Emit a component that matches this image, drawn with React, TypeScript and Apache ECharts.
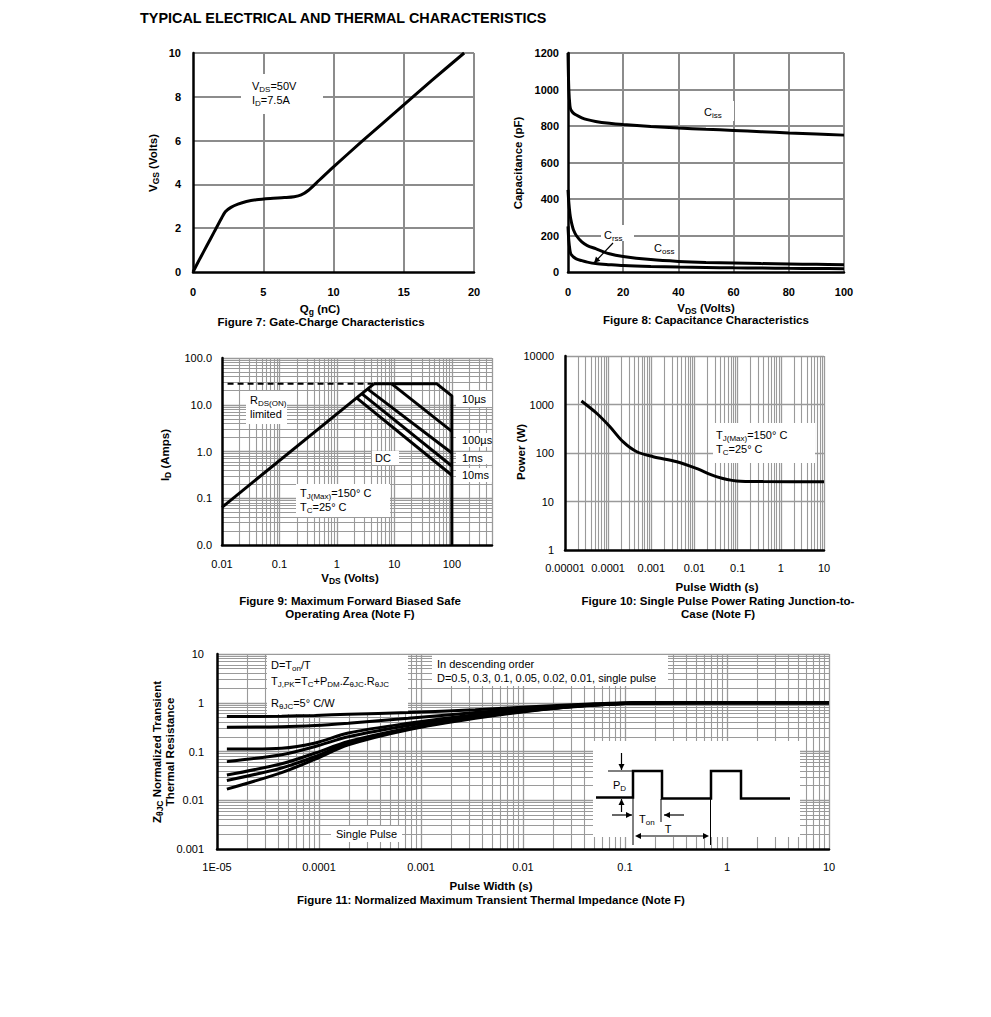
import { useEffect, useRef } from 'react';
import * as echarts from 'echarts';

const FONT = '"Liberation Sans", Arial, Helvetica, sans-serif';

// ---------- Figure 7: Gate-Charge ----------
const fig7Qg = [0, 0.5, 1, 1.5, 2, 2.3, 2.7, 3.2, 3.8, 4.5, 5.5, 6.5, 7.2, 7.7, 8.2, 9, 10, 12, 15, 17, 19.3];
const fig7Vgs = [0, 0.62, 1.22, 1.82, 2.42, 2.75, 2.95, 3.1, 3.22, 3.3, 3.36, 3.4, 3.44, 3.52, 3.72, 4.2, 4.8, 5.95, 7.63, 8.75, 10];

// ---------- Figure 8: Capacitance ----------
const fig8Vds = [0, 0.3, 0.7, 1, 1.5, 2, 3, 5, 7, 10, 15, 20, 30, 40, 50, 60, 70, 80, 90, 100];
const fig8Ciss = [1200, 1000, 910, 890, 878, 870, 860, 845, 835, 825, 815, 808, 797, 789, 782, 776, 769, 762, 756, 750];
const fig8Coss = [450, 380, 320, 290, 255, 230, 200, 165, 145, 128, 100, 85, 68, 58, 52, 49, 46, 44, 42, 40];
const fig8Crss = [250, 170, 120, 100, 90, 82, 72, 62, 54, 46, 40, 35, 30, 27, 25, 23, 22, 20, 19, 18];

// ---------- Figure 9: Safe Operating Area ----------
const fig9XTickLabels = ['0.01', '0.1', '1', '10', '100'];
const fig9YTickLabels = ['0.0', '0.1', '1.0', '10.0', '100.0'];
const fig9RdsDashV = [0.0125, 4.4];
const fig9RdsDashI = [28, 28];
const fig9RdsV = [0.01, 4.4];
const fig9RdsI = [0.064, 28];
const fig9Us10V = [4.4, 55, 100, 100];
const fig9Us10I = [28, 28, 15.5, 0.01];
const fig9Us100V = [9, 100];
const fig9Us100I = [28, 2.7];
const fig9Ms1V = [3.4, 100];
const fig9Ms1I = [21.8, 0.93];
const fig9Ms10V = [2.7, 100];
const fig9Ms10I = [17.3, 0.49];
const fig9DcV = [2.2, 100];
const fig9DcI = [14, 0.31];

// ---------- Figure 10: Single Pulse Power ----------
const fig10XTickLabels = ['0.00001', '0.0001', '0.001', '0.01', '0.1', '1', '10'];
const fig10YTickLabels = ['1', '10', '100', '1000', '10000'];
const fig10T = [2.4e-5, 5.4e-5, 1.1e-4, 2.2e-4, 4.6e-4, 1.1e-3, 3.9e-3, 1.1e-2, 3.2e-2, 9.4e-2, 0.39, 10];
const fig10P = [1180, 660, 348, 171, 106, 84, 66, 48, 32.5, 26.5, 25.7, 25.5];

// ---------- Figure 11: Transient Thermal Impedance ----------
const fig11XTickLabels = ['1E-05', '0.0001', '0.001', '0.01', '0.1', '1', '10'];
const fig11YTickLabels = ['0.001', '0.01', '0.1', '1', '10'];
const fig11T = [1.25e-5, 4.3e-5, 9.2e-5, 1.94e-4, 7.5e-4, 3.4e-3, 0.015, 0.05, 0.12, 0.5, 10];
const fig11D05 = [0.52, 0.53, 0.55, 0.58, 0.63, 0.72, 0.85, 0.95, 1.0, 1.0, 1.0];
const fig11D03 = [0.316, 0.32, 0.34, 0.38, 0.48, 0.63, 0.8, 0.93, 0.99, 1.0, 1.0];
const fig11D01 = [0.112, 0.117, 0.15, 0.24, 0.38, 0.57, 0.77, 0.92, 0.99, 1.0, 1.0];
const fig11D005 = [0.062, 0.086, 0.127, 0.2, 0.34, 0.54, 0.76, 0.91, 0.99, 1.0, 1.0];
const fig11D002 = [0.033, 0.056, 0.093, 0.16, 0.3, 0.51, 0.74, 0.9, 0.98, 1.0, 1.0];
const fig11D001 = [0.0254, 0.046, 0.079, 0.15, 0.29, 0.5, 0.73, 0.9, 0.98, 1.0, 1.0];
const fig11Single = [0.0169, 0.037, 0.07, 0.137, 0.28, 0.48, 0.72, 0.89, 0.98, 1.0, 1.0];

const zip = (xs: number[], ys: number[]) => xs.map((x, i) => [x, ys[i]]);

const GRID_COLOR = '#9a9a9a';
const AXIS_LINE = { show: true, onZero: false, lineStyle: { color: '#000', width: 2.5 } };

const decadeFormatter = (labels: string[], minExp: number) => (v: number) => {
  const l = Math.log10(v);
  const r = Math.round(l);
  if (Math.abs(l - r) > 1e-6) return '';
  return labels[r - minExp] ?? '';
};

const labelStyle = (bold: boolean, margin: number) => ({
  margin,
  fontFamily: FONT,
  fontSize: 11,
  fontWeight: bold ? 'bold' : 'normal',
  color: '#000',
});

function valueAxis(gridIndex: number, min: number, max: number, interval: number, margin: number) {
  return {
    gridIndex,
    type: 'value',
    min,
    max,
    interval,
    axisLine: AXIS_LINE,
    axisTick: { show: false },
    axisLabel: { ...labelStyle(true, margin), formatter: (v: number) => String(v) },
    splitLine: { show: true, showMinLine: false, lineStyle: { color: '#8c8c8c', width: 2 } },
  };
}

function logAxis(gridIndex: number, min: number, max: number, labels: string[], minExp: number, margin: number, minor: boolean) {
  return {
    gridIndex,
    type: 'log',
    logBase: 10,
    min,
    max,
    axisLine: AXIS_LINE,
    axisTick: { show: false },
    minorTick: { show: false, splitNumber: 9 },
    axisLabel: { ...labelStyle(false, margin), formatter: decadeFormatter(labels, minExp) },
    splitLine: { show: true, showMinLine: false, lineStyle: { color: GRID_COLOR, width: 1.3 } },
    minorSplitLine: { show: minor, lineStyle: { color: GRID_COLOR, width: 1.1 } },
  };
}

function line(idx: number, xs: number[], ys: number[], extra: any = {}) {
  return {
    type: 'line',
    xAxisIndex: idx,
    yAxisIndex: idx,
    data: zip(xs, ys),
    symbol: 'none',
    silent: true,
    lineStyle: { color: '#000', width: 3 },
    z: 3,
    ...extra,
  };
}

const RICH = {
  n: { fontFamily: FONT, fontSize: 11, lineHeight: 14, fill: '#000' },
  s: { fontFamily: FONT, fontSize: 8, lineHeight: 7, verticalAlign: 'bottom', fill: '#000' },
  b: { fontFamily: FONT, fontSize: 11.5, fontWeight: 'bold', lineHeight: 14, fill: '#000' },
  bs: { fontFamily: FONT, fontSize: 8.5, fontWeight: 'bold', lineHeight: 7, verticalAlign: 'bottom', fill: '#000' },
  t: { fontFamily: FONT, fontSize: 14.4, fontWeight: 'bold', lineHeight: 16, fill: '#000' },
};

function txt(x: number, y: number, text: string, align = 'left', extra: any = {}) {
  return {
    type: 'text',
    x,
    y,
    z: 10,
    silent: true,
    style: { text, rich: RICH, fill: '#000', fontFamily: FONT, fontSize: 11, align, verticalAlign: 'middle' },
    ...extra,
  };
}
const vtxt = (x: number, y: number, text: string) => txt(x, y, text, 'center', { rotation: Math.PI / 2 });

function box(x1: number, y1: number, x2: number, y2: number) {
  return { type: 'rect', z: 1, silent: true, shape: { x: x1, y: y1, width: x2 - x1, height: y2 - y1 }, style: { fill: '#fff' } };
}
function seg(x1: number, y1: number, x2: number, y2: number, w = 1) {
  return { type: 'line', z: 10, silent: true, shape: { x1, y1, x2, y2 }, style: { stroke: '#000', lineWidth: w } };
}
function head(tipX: number, tipY: number, fromX: number, fromY: number, len = 6, half = 3) {
  const dx = tipX - fromX;
  const dy = tipY - fromY;
  const d = Math.hypot(dx, dy);
  const ux = dx / d;
  const uy = dy / d;
  const bx = tipX - ux * len;
  const by = tipY - uy * len;
  return {
    type: 'polygon',
    z: 10,
    silent: true,
    shape: { points: [[tipX, tipY], [bx - uy * half, by + ux * half], [bx + uy * half, by - ux * half]] },
    style: { fill: '#000' },
  };
}
const arrow = (x1: number, y1: number, x2: number, y2: number) => [seg(x1, y1, x2, y2, 1.2), head(x2, y2, x1, y1)];

function buildOption() {
  const graphic: any[] = [
    // page title
    txt(140, 18, '{t|TYPICAL ELECTRICAL AND THERMAL CHARACTERISTICS}'),

    // Figure 7
    box(241, 74, 323, 114),
    txt(252, 93, '{n|V}{s|DS}{n|=50V}\n{n|I}{s|D}{n|=7.5A}'),
    vtxt(153, 163, '{b|V}{bs|GS}{b| (Volts)}'),
    txt(320, 309, '{b|Q}{bs|g}{b| (nC)}', 'center'),
    txt(321, 322, '{b|Figure 7: Gate-Charge Characteristics}', 'center'),

    // Figure 8
    box(701, 101, 734, 121),
    txt(704, 112, '{n|C}{s|iss}'),
    box(601, 225, 634, 241),
    txt(604, 235, '{n|C}{s|rss}'),
    txt(654, 248, '{n|C}{s|oss}'),
    ...arrow(613, 243, 594, 263),
    vtxt(518, 163, '{b|Capacitance (pF)}'),
    txt(706, 308, '{b|V}{bs|DS}{b| (Volts)}', 'center'),
    txt(706, 320, '{b|Figure 8: Capacitance Characteristics}', 'center'),

    // Figure 9
    box(246, 391, 287, 424),
    txt(250, 407, '{n|R}{s|DS(ON)}\n{n|limited}'),
    box(456, 391, 492, 407),
    txt(462, 399, '{n|10µs}'),
    box(456, 433, 492, 447),
    txt(462, 440, '{n|100µs}'),
    box(456, 452, 492, 464),
    txt(462, 458, '{n|1ms}'),
    box(456, 468, 492, 482),
    txt(462, 475, '{n|10ms}'),
    box(372, 451, 399, 465),
    txt(375, 458, '{n|DC}'),
    box(296, 484, 390, 517),
    txt(300, 500, '{n|T}{s|J(Max)}{n|=150° C}\n{n|T}{s|C}{n|=25° C}'),
    vtxt(165, 455, '{b|I}{bs|D}{b| (Amps)}'),
    txt(350, 578, '{b|V}{bs|DS}{b| (Volts)}', 'center'),
    txt(350, 601, '{b|Figure 9: Maximum Forward Biased Safe}', 'center'),
    txt(350, 614, '{b|Operating Area (Note F)}', 'center'),

    // Figure 10
    box(713, 423, 815, 463),
    txt(716, 442, '{n|T}{s|J(Max)}{n|=150° C}\n{n|T}{s|C}{n|=25° C}'),
    vtxt(521, 452, '{b|Power (W)}'),
    txt(717, 587, '{b|Pulse Width (s)}', 'center'),
    txt(718, 601, '{b|Figure 10: Single Pulse Power Rating Junction-to-}', 'center'),
    txt(718, 614, '{b|Case (Note F)}', 'center'),

    // Figure 11
    box(267, 655, 408, 714),
    txt(271, 665, '{n|D=T}{s|on}{n|/T}'),
    txt(271, 681, '{n|T}{s|J,PK}{n|=T}{s|C}{n|+P}{s|DM}{n|.Z}{s|θJC}{n|.R}{s|θJC}'),
    txt(271, 703, '{n|R}{s|θJC}{n|=5° C/W}'),
    box(432, 655, 668, 686),
    txt(437, 664, '{n|In descending order}'),
    txt(437, 678, '{n|D=0.5, 0.3, 0.1, 0.05, 0.02, 0.01, single pulse}'),
    box(331, 826, 402, 842),
    txt(336, 834, '{n|Single Pulse}'),
    vtxt(157, 752, '{b|Z}{bs|θJC}{b| Normalized Transient}'),
    vtxt(170, 752, '{b|Thermal Resistance}'),
    txt(491, 886, '{b|Pulse Width (s)}', 'center'),
    txt(491, 900, '{b|Figure 11: Normalized Maximum Transient Thermal Impedance (Note F)}', 'center'),

    // Figure 11 inset: pulse train schematic
    box(593, 741, 800, 837),
    {
      type: 'polyline',
      z: 10,
      silent: true,
      shape: {
        points: [[596, 797.5], [633, 797.5], [633, 771], [662, 771], [662, 798.5], [711, 798.5], [711, 771], [741, 771], [741, 798.5], [790, 798.5]],
      },
      style: { stroke: '#000', lineWidth: 2.5, fill: null },
    },
    seg(608, 771, 633, 771, 1),
    ...arrow(621.5, 753, 621.5, 770),
    ...arrow(621.5, 812, 621.5, 799),
    txt(613, 785, '{n|P}{s|D}'),
    ...arrow(612, 815, 632, 815),
    txt(639, 819, '{n|T}{s|on}'),
    ...arrow(684, 815, 664, 815),
    seg(633, 771, 633, 845, 1),
    seg(661, 799, 661, 822, 1),
    seg(710.5, 771, 710.5, 845, 1),
    seg(640, 836, 704, 836, 1.2),
    head(635, 836, 645, 836),
    head(709, 836, 699, 836),
    txt(668, 829, '{n|T}', 'center'),
  ];

  return {
    animation: false,
    backgroundColor: '#fff',
    grid: [
      { left: 193, top: 53, width: 281, height: 219, outerBoundsMode: 'none' },
      { left: 568, top: 53, width: 276, height: 219, outerBoundsMode: 'none' },
      { left: 222, top: 358, width: 270, height: 187, outerBoundsMode: 'none' },
      { left: 565, top: 356, width: 259, height: 194, outerBoundsMode: 'none' },
      { left: 217, top: 654, width: 612, height: 195, outerBoundsMode: 'none' },
    ],
    xAxis: [
      valueAxis(0, 0, 20, 5, 14),
      valueAxis(1, 0, 100, 20, 14),
      logAxis(2, 0.01, 500, fig9XTickLabels, -2, 13, true),
      logAxis(3, 1e-5, 10, fig10XTickLabels, -5, 12, true),
      logAxis(4, 1e-5, 10, fig11XTickLabels, -5, 12, true),
    ],
    yAxis: [
      valueAxis(0, 0, 10, 2, 12),
      valueAxis(1, 0, 1200, 200, 9),
      logAxis(2, 0.01, 100, fig9YTickLabels, -2, 10, true),
      logAxis(3, 1, 10000, fig10YTickLabels, 0, 11, false),
      logAxis(4, 0.001, 10, fig11YTickLabels, -3, 13, true),
    ],
    series: [
      line(0, fig7Qg, fig7Vgs, { smooth: 0.3 }),
      line(1, fig8Vds, fig8Ciss, { smooth: 0.3 }),
      line(1, fig8Vds, fig8Coss, { smooth: 0.3 }),
      line(1, fig8Vds, fig8Crss, { smooth: 0.3 }),
      line(2, fig9RdsDashV, fig9RdsDashI, { lineStyle: { color: '#000', width: 2, type: [6, 4] } }),
      line(2, fig9RdsV, fig9RdsI),
      line(2, fig9Us10V, fig9Us10I),
      line(2, fig9Us100V, fig9Us100I),
      line(2, fig9Ms1V, fig9Ms1I),
      line(2, fig9Ms10V, fig9Ms10I),
      line(2, fig9DcV, fig9DcI),
      line(3, fig10T, fig10P, { smooth: 0.3 }),
      line(4, fig11T, fig11D05, { smooth: 0.3 }),
      line(4, fig11T, fig11D03, { smooth: 0.3 }),
      line(4, fig11T, fig11D01, { smooth: 0.3 }),
      line(4, fig11T, fig11D005, { smooth: 0.3 }),
      line(4, fig11T, fig11D002, { smooth: 0.3 }),
      line(4, fig11T, fig11D001, { smooth: 0.3 }),
      line(4, fig11T, fig11Single, { smooth: 0.3 }),
    ],
    graphic,
  };
}

export default function App() {
  const ref = useRef<HTMLDivElement>(null);
  useEffect(() => {
    if (!ref.current) return;
    const chart = echarts.init(ref.current, undefined, { renderer: 'svg' });
    chart.setOption(buildOption() as any);
    return () => chart.dispose();
  }, []);
  return (
    <div
      ref={ref}
      style={{ position: 'fixed', left: 0, top: 0, width: 991, height: 1017, background: '#fff' }}
    />
  );
}
